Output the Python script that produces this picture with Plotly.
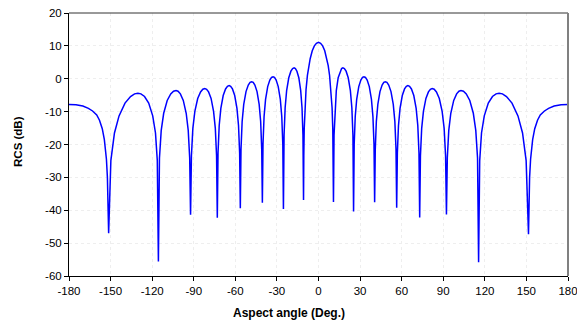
import plotly.graph_objects as go

# Aspect angle (deg) and RCS (dB), lobe by lobe
aspect_angle = [
    -180, -175, -170, -166, -163, -160, -158, -156, -154.5, -153, -152.3, -151.4,
    -149.8, -147.2, -143.9, -139.6, -135.6, -132.7, -130.3, -128.1, -125.5, -122.5, -119.6, -117.6, -116.3, -115.5,
    -114.74, -113.47, -111.69, -109.15, -106.61, -104.58, -102.8, -101.33, -99.65, -97.55, -95.45, -93.98, -92.93, -92.3,
    -91.68, -90.65, -89.21, -87.15, -85.09, -83.44, -82.0, -80.74, -79.3, -77.5, -75.7, -74.44, -73.54, -73.0,
    -72.49, -71.64, -70.45, -68.75, -67.05, -65.69, -64.5, -63.37, -62.07, -60.45, -58.83, -57.7, -56.89, -56.4,
    -55.91, -55.09, -53.94, -52.3, -50.66, -49.35, -48.2, -47.12, -45.89, -44.35, -42.81, -41.73, -40.96, -40.5,
    -40.04, -39.27, -38.19, -36.65, -35.11, -33.88, -32.8, -31.75, -30.55, -29.05, -27.55, -26.5, -25.75, -25.3,
    -24.84, -24.07, -22.99, -21.45, -19.91, -18.68, -17.6, -16.65, -15.56, -14.2, -12.84, -11.89, -11.21, -10.8,
    -10.6, -10.3, -9.8, -9, -8, -7, -6, -4.5, -3, -1.5, 0, 1.5, 3, 4.5, 6, 7, 8, 9, 9.8, 10.3, 10.6, 10.8,
    11.21, 11.89, 12.84, 14.2, 15.56, 16.65, 17.6, 18.68, 19.91, 21.45, 22.99, 24.07, 24.84, 25.3,
    25.75, 26.5, 27.55, 29.05, 30.55, 31.75, 32.8, 33.88, 35.11, 36.65, 38.19, 39.27, 40.04, 40.5,
    40.96, 41.73, 42.81, 44.35, 45.89, 47.12, 48.2, 49.35, 50.66, 52.3, 53.94, 55.09, 55.91, 56.4,
    56.89, 57.7, 58.83, 60.45, 62.07, 63.37, 64.5, 65.69, 67.05, 68.75, 70.45, 71.64, 72.49, 73.0,
    73.54, 74.44, 75.7, 77.5, 79.3, 80.74, 82.0, 83.44, 85.09, 87.15, 89.21, 90.65, 91.68, 92.3,
    92.93, 93.98, 95.45, 97.55, 99.65, 101.33, 102.8, 104.58, 106.61, 109.15, 111.69, 113.47, 114.74, 115.5,
    116.3, 117.6, 119.6, 122.5, 125.5, 128.1, 130.3, 132.7, 135.6, 139.6, 143.9, 147.2, 149.8, 151.5,
    152.3, 153, 154.5, 156, 158, 160, 163, 166, 170, 175, 180,
]

rcs_db = [
    -7.8, -7.9, -8.3, -9.0, -9.8, -11.0, -12.6, -15.2, -18.5, -24.5, -30.0, -47.0,
    -24.9, -16.5, -11.3, -7.4, -5.4, -4.6, -4.4, -4.6, -5.4, -7.4, -11.3, -16.5, -24.9, -55.6,
    -24.1, -15.7, -10.5, -6.6, -4.6, -3.8, -3.6, -3.8, -4.6, -6.6, -10.5, -15.7, -24.1, -41.4,
    -23.5, -15.1, -9.9, -6.0, -4.0, -3.2, -3.0, -3.2, -4.0, -6.0, -9.9, -15.1, -23.5, -42.3,
    -22.6, -14.2, -9.0, -5.1, -3.1, -2.3, -2.1, -2.3, -3.1, -5.1, -9.0, -14.2, -22.6, -39.4,
    -21.4, -13.0, -7.8, -3.9, -1.9, -1.1, -0.9, -1.1, -1.9, -3.9, -7.8, -13.0, -21.4, -37.7,
    -19.9, -11.5, -6.3, -2.4, -0.4, 0.4, 0.6, 0.4, -0.4, -2.4, -6.3, -11.5, -19.9, -39.6,
    -17.2, -8.8, -3.6, 0.3, 2.3, 3.1, 3.3, 3.1, 2.3, 0.3, -3.6, -8.8, -17.2, -36.9,
    -23.4, -15.2, -8.8, -3.3, 1.0, 4.0, 6.1, 8.5, 10.0, 10.8, 11.1, 10.8, 10.0, 8.5, 6.1, 4.0, 1.0, -3.3, -8.8, -15.2, -23.4, -37.5,
    -17.2, -8.8, -3.6, 0.3, 2.3, 3.1, 3.3, 3.1, 2.3, 0.3, -3.6, -8.8, -17.2, -40.4,
    -19.9, -11.5, -6.3, -2.4, -0.4, 0.4, 0.6, 0.4, -0.4, -2.4, -6.3, -11.5, -19.9, -37.6,
    -21.4, -13.0, -7.8, -3.9, -1.9, -1.1, -0.9, -1.1, -1.9, -3.9, -7.8, -13.0, -21.4, -39.2,
    -22.6, -14.2, -9.0, -5.1, -3.1, -2.3, -2.1, -2.3, -3.1, -5.1, -9.0, -14.2, -22.6, -42.2,
    -23.5, -15.1, -9.9, -6.0, -4.0, -3.2, -3.0, -3.2, -4.0, -6.0, -9.9, -15.1, -23.5, -41.3,
    -24.1, -15.7, -10.5, -6.6, -4.6, -3.8, -3.6, -3.8, -4.6, -6.6, -10.5, -15.7, -24.1, -55.8,
    -24.9, -16.5, -11.3, -7.4, -5.4, -4.6, -4.4, -4.6, -5.4, -7.4, -11.3, -16.5, -24.9, -47.3,
    -30.0, -24.5, -18.5, -15.2, -12.6, -11.0, -9.8, -9.0, -8.3, -7.9, -7.8,
]

x_ticks = [-180, -150, -120, -90, -60, -30, 0, 30, 60, 90, 120, 150, 180]
x_tick_labels = ["-180", "-150", "-120", "-90", "-60", "-30", "0", "30", "60", "90", "120", "150", "180"]
y_ticks = [-60, -50, -40, -30, -20, -10, 0, 10, 20]
y_tick_labels = ["-60", "-50", "-40", "-30", "-20", "-10", "0", "10", "20"]

x_title = "Aspect angle (Deg.)"
y_title = "RCS (dB)"

FONT = "Liberation Sans, Arial, sans-serif"

fig = go.Figure(
    go.Scatter(
        x=aspect_angle,
        y=rcs_db,
        mode="lines",
        line=dict(color="#0000FF", width=1.5),
        hoverinfo="x+y",
    )
)

axis_common = dict(
    showline=True,
    linecolor="#000000",
    linewidth=1,
    ticks="outside",
    ticklen=4,
    tickcolor="#000000",
    tickwidth=1,
    showgrid=True,
    gridcolor="#eeeeee",
    griddash="dot",
    gridwidth=1,
    zeroline=False,
    automargin=False,
    ticklabeloverflow="allow",
    tickfont=dict(family=FONT, size=11.5, color="#000000"),
)

fig.update_layout(
    width=577,
    height=323,
    template="none",
    paper_bgcolor="#ffffff",
    plot_bgcolor="#ffffff",
    margin=dict(l=69, r=9, t=13, b=47, pad=0),
    showlegend=False,
    xaxis=dict(range=[-180, 180], tickmode="array", tickvals=x_ticks, ticktext=x_tick_labels, **axis_common),
    yaxis=dict(range=[-60, 20], tickmode="array", tickvals=y_ticks, ticktext=y_tick_labels, **axis_common),
    annotations=[
        dict(
            text="<b>" + x_title + "</b>",
            xref="paper", yref="paper",
            x=0.44, y=-0.139,
            xanchor="center", yanchor="middle",
            showarrow=False,
            font=dict(family=FONT, size=12, color="#000000"),
        ),
        dict(
            text="<b>" + y_title + "</b>",
            xref="paper", yref="paper",
            x=-0.102, y=0.51,
            xanchor="center", yanchor="middle",
            textangle=-90,
            showarrow=False,
            font=dict(family=FONT, size=11.5, color="#000000"),
        ),
    ],
    shapes=[
        dict(type="line", xref="paper", yref="paper", x0=0, x1=1, y0=1, y1=1,
             line=dict(color="#333333", width=1)),
        dict(type="line", xref="paper", yref="paper", x0=1, x1=1, y0=0, y1=1,
             line=dict(color="#808080", width=2)),
    ],
)

fig.write_html(
    "out.html",
    config={"displayModeBar": False},
    post_script="document.body.style.margin='0';document.body.style.padding='0';",
)
